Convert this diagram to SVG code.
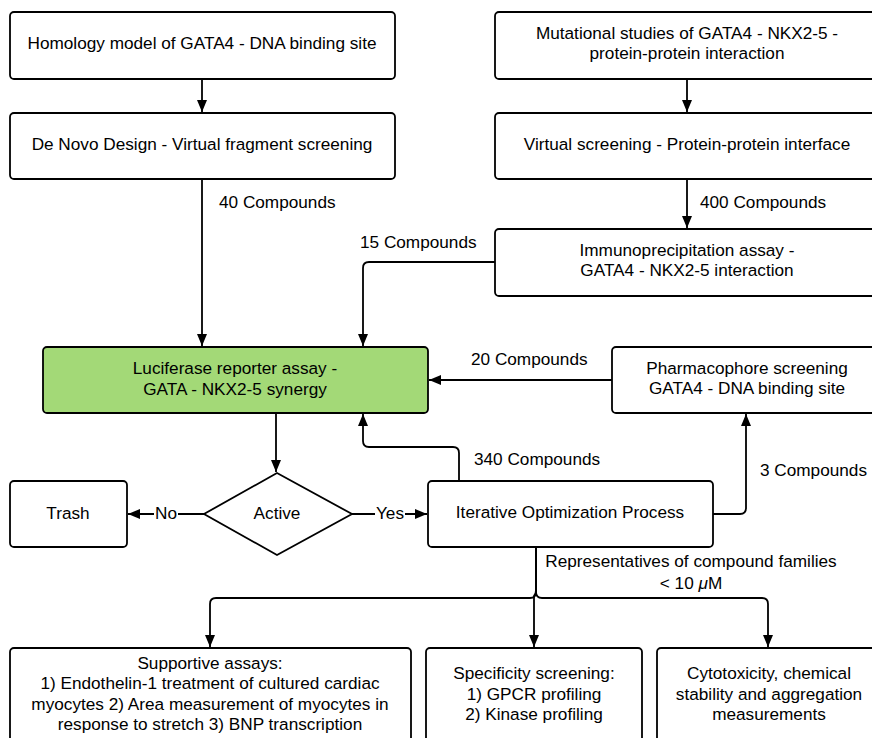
<svg xmlns="http://www.w3.org/2000/svg" width="872" height="738" viewBox="0 0 872 738">
<style>
.box{fill:#fff;stroke:#000;stroke-width:1.8}
.green{fill:#a3d977}
.t{font-family:"Liberation Sans",Arial,sans-serif;font-size:17.2px;fill:#000;text-anchor:middle}
.l{font-family:"Liberation Sans",Arial,sans-serif;font-size:17.2px;fill:#000}
.c{fill:none;stroke:#000;stroke-width:1.8}
</style>
<defs>
<marker id="ah" markerUnits="userSpaceOnUse" markerWidth="14" markerHeight="14" viewBox="0 0 14 14" refX="13" refY="7" orient="auto">
<path d="M1,2 L13,7 L1,12 Z" fill="#000"/>
</marker>
</defs>
<rect width="872" height="738" fill="#fff"/>

<g id="connectors">
<path class="c" d="M202,79 V112" marker-end="url(#ah)"/>
<path class="c" d="M687,79 V112" marker-end="url(#ah)"/>
<path class="c" d="M202,179 V346" marker-end="url(#ah)"/>
<path class="c" d="M687,179 V228" marker-end="url(#ah)"/>
<path class="c" d="M495,262 H369 Q363,262 363,268 V346" marker-end="url(#ah)"/>
<path class="c" d="M612,380 H429" marker-end="url(#ah)"/>
<path class="c" d="M276,413 V472" marker-end="url(#ah)"/>
<path class="c" d="M204,514 H128" marker-end="url(#ah)"/>
<path class="c" d="M352,514 H427" marker-end="url(#ah)"/>
<path class="c" d="M459,481 V453 Q459,447 453,447 H369 Q363,447 363,441 V414" marker-end="url(#ah)"/>
<path class="c" d="M713,514 H740 Q746,514 746,508 V414" marker-end="url(#ah)"/>
<path class="c" d="M536,547 V592 Q536,598 530,598 H216 Q210,598 210,604 V647" marker-end="url(#ah)"/>
<path class="c" d="M536,547 V590 Q536,594 534,596 V647" marker-end="url(#ah)"/>
<path class="c" d="M536,547 V592 Q536,598 542,598 H762 Q768,598 768,604 V647" marker-end="url(#ah)"/>
<rect x="154" y="504" width="24" height="20" fill="#fff"/>
<text class="t" x="166" y="519">No</text>
<rect x="375" y="504" width="30" height="20" fill="#fff"/>
<text class="t" x="390" y="519">Yes</text>
<text class="l" x="219" y="208">40 Compounds</text>
<text class="l" x="700" y="208">400 Compounds</text>
<text class="l" x="360" y="248">15 Compounds</text>
<text class="l" x="471" y="365">20 Compounds</text>
<text class="l" x="474" y="465">340 Compounds</text>
<text class="l" x="760" y="476">3 Compounds</text>
<text class="t" x="691" y="567">Representatives of compound families</text>
<text class="t" x="691" y="589">&lt; 10 <tspan font-style="italic">μ</tspan>M</text>
</g>

<g id="homology">
<rect class="box" x="10" y="12" width="385" height="67" rx="4"/>
<text class="t" x="202" y="49">Homology model of GATA4 - DNA binding site</text>
</g>
<g id="denovo">
<rect class="box" x="10" y="113" width="385" height="66" rx="4"/>
<text class="t" x="202" y="150">De Novo Design - Virtual fragment screening</text>
</g>
<g id="mutational">
<rect class="box" x="495" y="12" width="385" height="67" rx="4"/>
<text class="t" x="687" y="39">Mutational studies of GATA4 - NKX2-5 -</text>
<text class="t" x="687" y="59">protein-protein interaction</text>
</g>
<g id="virtual">
<rect class="box" x="495" y="113" width="385" height="66" rx="4"/>
<text class="t" x="687" y="150">Virtual screening - Protein-protein interface</text>
</g>
<g id="immuno">
<rect class="box" x="495" y="229" width="385" height="67" rx="4"/>
<text class="t" x="687" y="256">Immunoprecipitation assay -</text>
<text class="t" x="687" y="276">GATA4 - NKX2-5 interaction</text>
</g>
<g id="luciferase">
<rect class="box green" x="43" y="347" width="385" height="66" rx="4"/>
<text class="t" x="235" y="374">Luciferase reporter assay -</text>
<text class="t" x="235" y="395">GATA - NKX2-5 synergy</text>
</g>
<g id="pharmacophore">
<rect class="box" x="612" y="347" width="270" height="66" rx="4"/>
<text class="t" x="747" y="374">Pharmacophore screening</text>
<text class="t" x="747" y="394">GATA4 - DNA binding site</text>
</g>
<g id="active">
<polygon class="box" points="277,473 352,514 277,555 204,514"/>
<text class="t" x="277" y="519">Active</text>
</g>
<g id="trash">
<rect class="box" x="10" y="481" width="117" height="66" rx="4"/>
<text class="t" x="68" y="519">Trash</text>
</g>
<g id="iterative">
<rect class="box" x="428" y="481" width="285" height="66" rx="4"/>
<text class="t" x="570" y="518">Iterative Optimization Process</text>
</g>
<g id="supportive">
<rect class="box" x="10" y="648" width="401" height="100" rx="4"/>
<text class="t" x="210" y="669">Supportive assays:</text>
<text class="t" x="210" y="689">1) Endothelin-1 treatment of cultured cardiac</text>
<text class="t" x="210" y="710">myocytes 2) Area measurement of myocytes in</text>
<text class="t" x="210" y="730">response to stretch 3) BNP transcription</text>
</g>
<g id="specificity">
<rect class="box" x="426" y="648" width="216" height="100" rx="4"/>
<text class="t" x="534" y="679">Specificity screening:</text>
<text class="t" x="534" y="700">1) GPCR profiling</text>
<text class="t" x="534" y="720">2) Kinase profiling</text>
</g>
<g id="cytotoxicity">
<rect class="box" x="657" y="648" width="225" height="100" rx="4"/>
<text class="t" x="769" y="679">Cytotoxicity, chemical</text>
<text class="t" x="769" y="700">stability and aggregation</text>
<text class="t" x="769" y="720">measurements</text>
</g>
</svg>
